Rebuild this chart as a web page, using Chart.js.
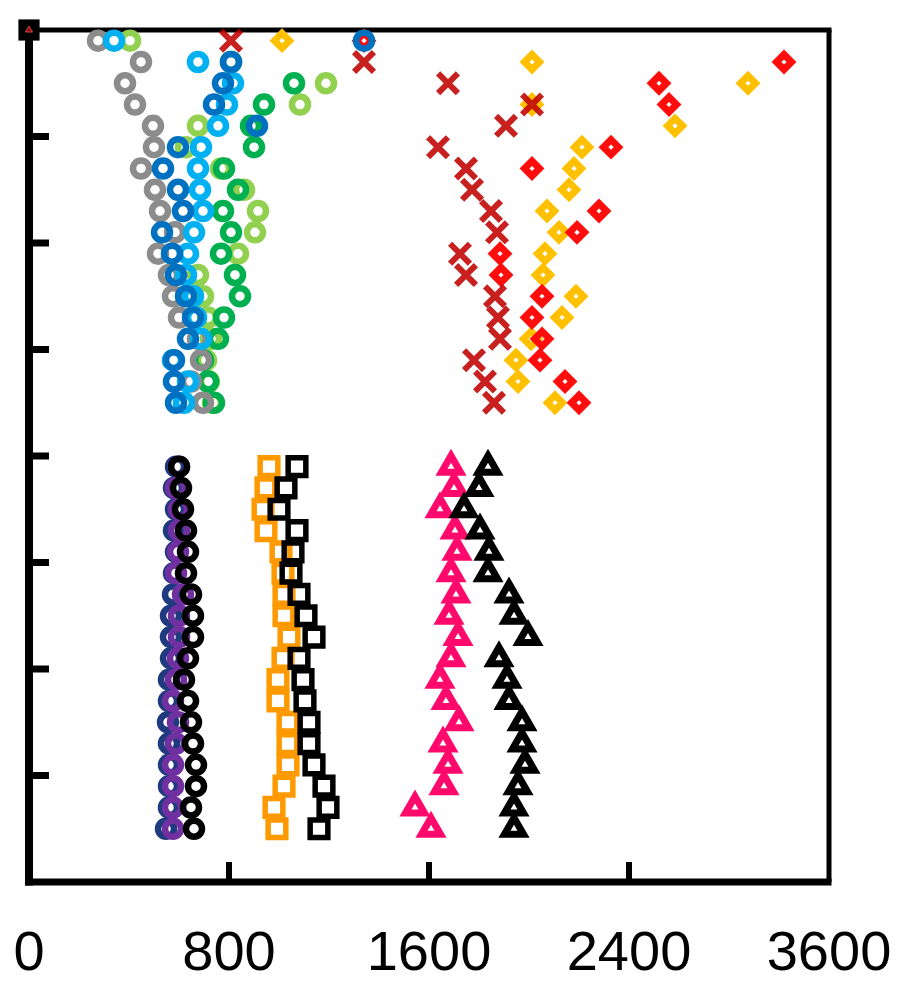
<!DOCTYPE html>
<html>
<head>
<meta charset="utf-8">
<script src="https://cdn.jsdelivr.net/npm/chart.js@4.4.1/dist/chart.umd.min.js"></script>
<style>
  html, body { margin: 0; padding: 0; background: #fff; }
  #wrap { width: 904px; height: 981px; }
</style>
</head>
<body>
<div id="wrap"><canvas id="chart" width="904" height="981"></canvas></div>
<script>
// ---- depth rows (y) ----
const rowsUpper = [0.1, 0.3, 0.5, 0.7, 0.9, 1.1, 1.3, 1.5, 1.7, 1.9, 2.1, 2.3, 2.5, 2.7, 2.9, 3.1, 3.3, 3.5];
const rowsLower = [4.1, 4.3, 4.5, 4.7, 4.9, 5.1, 5.3, 5.5, 5.7, 5.9, 6.1, 6.3, 6.5, 6.7, 6.9, 7.1, 7.3, 7.5];

// ---- x ticks ----
const xTickValues = [0, 800, 1600, 2400, 3200];
const xTickLabels = ['0', '800', '1600', '2400', '3600'];

// ---- upper block ----
const grayCircles      = [276, 448, 384, 424, 496, 500, 448, 504, 524, 584, 516, 560, 576, 600, 676, 688, 648, 696];
const lightBlueCircles = [340, 676, 816, 792, 756, 688, 676, 684, 696, 660, 636, 628, 656, 668, 688, 576, 636, 620];
const darkBlueCircles  = [1340, 808, 776, 740, 912, 596, 536, 596, 616, 532, 572, 588, 628, 656, 636, 580, 580, 588];
const lightGreenCircles = [404, null, 1188, 1084, 676, 628, 768, 860, 916, 904, 836, 676, 696, 716, 728, 708, 720, 736];
const greenCircles     = [null, 808, 1060, 940, 888, 900, 780, 836, 776, 808, 768, 824, 844, 780, 756, 696, 716, 740];
const redCrosses       = [808, 1340, 1676, 2012, 1908, 1636, 1748, 1772, 1848, 1872, 1724, 1748, 1864, 1876, 1884, 1780, 1824, 1860];
const yellowDiamonds   = [1012, 2012, 2876, 2012, 2584, 2212, 2180, 2160, 2072, 2120, 2064, 2056, 2188, 2132, 2008, 1948, 1956, 2104];
const redDiamonds      = [1340, 3020, 2520, 2560, null, 2328, 2012, null, 2280, 2192, 1884, 1888, 2052, 2012, 2052, 2044, 2144, 2200];

// ---- lower block ----
const navyCircles      = [588, 580, 588, 580, 588, 580, 576, 568, 568, 568, 560, 560, 556, 560, 560, 560, 560, 548];
const purpleCircles    = [600, 588, 600, 600, 596, 588, 616, 600, 600, 596, 588, 576, 596, 588, 576, 576, 576, 576];
const blackCircles     = [600, 608, 616, 628, 636, 628, 648, 656, 656, 636, 620, 636, 648, 656, 668, 668, 648, 660];
const orangeSquares    = [960, 948, 936, 948, 1008, 1016, 1020, 1020, 1040, 1016, 996, 996, 1036, 1036, 1036, 1020, 980, 992];
const blackSquares     = [1072, 1028, 1000, 1072, 1056, 1048, 1080, 1108, 1140, 1080, 1096, 1104, 1120, 1120, 1140, 1180, 1196, 1160];
const pinkTriangles    = [1688, 1700, 1644, 1704, 1712, 1688, 1708, 1680, 1716, 1688, 1644, 1668, 1720, 1656, 1676, 1660, 1544, 1608];
const blackTriangles   = [1836, 1800, 1740, 1804, 1840, 1836, 1920, 1940, 1996, 1880, 1912, 1920, 1972, 1972, 1984, 1956, 1940, 1940];

// origin marker
const originX = [0];
const originY = [0];

function pts(xs, ys) {
    return xs.map((v, i) => ({ x: v, y: ys[i] })).filter(p => p.x !== null);
}

const styles = {
    ring:     { pointStyle: 'circle',   pointRadius: 8,   borderWidth: 6.5 },
    square:   { pointStyle: 'rect',     pointRadius: 12.5, borderWidth: 5.5 },
    diamond:  { pointStyle: 'rectRot',  pointRadius: 7.5, borderWidth: 7 },
    cross:    { pointStyle: 'crossRot', pointRadius: 14,  borderWidth: 6 },
    triangle: { pointStyle: 'triangle', pointRadius: 11,  borderWidth: 7 }
};

function series(label, xs, ys, style, color) {
    const s = styles[style];
    return {
        label,
        data: pts(xs, ys),
        pointStyle: s.pointStyle,
        pointRadius: s.pointRadius,
        pointHoverRadius: s.pointRadius,
        pointBorderWidth: s.borderWidth,
        pointBorderColor: color,
        pointBackgroundColor: 'rgba(0,0,0,0)',
        showLine: false,
        clip: false
    };
}

// first in list is drawn on top
const datasets = [
    { label: 'origin', data: pts(originX, originY), pointStyle: 'triangle', pointRadius: 4,
      pointBorderWidth: 1, pointBorderColor: '#e8402a', pointBackgroundColor: '#7a1020', clip: false },
    { label: 'origin box', data: pts(originX, originY), pointStyle: 'rect', pointRadius: 15,
      pointBorderWidth: 0, pointBackgroundColor: '#000', pointBorderColor: '#000', clip: false },
    series('black squares', blackSquares, rowsLower, 'square', '#000000'),
    series('orange squares', orangeSquares, rowsLower, 'square', '#ff9900'),
    series('black circles', blackCircles, rowsLower, 'ring', '#000000'),
    series('purple circles', purpleCircles, rowsLower, 'ring', '#7030a0'),
    series('navy circles', navyCircles, rowsLower, 'ring', '#203a80'),
    series('black triangles', blackTriangles, rowsLower, 'triangle', '#000000'),
    series('pink triangles', pinkTriangles, rowsLower, 'triangle', '#ff0a6c'),
    series('red crosses', redCrosses, rowsUpper, 'cross', 'rgba(192,0,0,0.88)'),
    series('dark blue circles', darkBlueCircles, rowsUpper, 'ring', '#0070c0'),
    series('light blue circles', lightBlueCircles, rowsUpper, 'ring', '#00b0f0'),
    series('gray circles', grayCircles, rowsUpper, 'ring', '#8c8c8c'),
    series('green circles', greenCircles, rowsUpper, 'ring', '#00b050'),
    series('light green circles', lightGreenCircles, rowsUpper, 'ring', '#92d050'),
    series('red diamonds', redDiamonds, rowsUpper, 'diamond', '#ff0d0d'),
    series('yellow diamonds', yellowDiamonds, rowsUpper, 'diamond', '#ffc000')
];

function strokeLine(ctx, x1, y1, x2, y2, w) {
    ctx.lineWidth = w;
    ctx.beginPath();
    ctx.moveTo(x1, y1);
    ctx.lineTo(x2, y2);
    ctx.stroke();
}

// box frame with inward tick marks, drawn under the markers
const framePlugin = {
    id: 'frame',
    beforeDatasetsDraw(chart) {
        const { ctx, chartArea: a, scales: { x, y } } = chart;
        ctx.save();
        ctx.strokeStyle = '#000';
        ctx.lineCap = 'butt';
        strokeLine(ctx, a.left, a.top, a.right + 2.5, a.top, 5);
        strokeLine(ctx, a.right, a.top, a.right, a.bottom, 5);
        strokeLine(ctx, a.left, a.top - 2.5, a.left, a.bottom + 3.5, 8);
        strokeLine(ctx, a.left - 4, a.bottom, a.right + 2.5, a.bottom, 7);
        y.ticks.forEach(t => {
            if (t.value <= y.min || t.value >= y.max) return;
            const py = y.getPixelForValue(t.value);
            strokeLine(ctx, a.left, py, a.left + 20, py, 7);
        });
        x.ticks.forEach(t => {
            if (t.value <= x.min || t.value >= x.max) return;
            const px = x.getPixelForValue(t.value);
            strokeLine(ctx, px, a.bottom, px, a.bottom - 20, 6);
        });
        ctx.restore();
    }
};

new Chart(document.getElementById('chart'), {
    type: 'scatter',
    data: { datasets },
    options: {
        responsive: false,
        animation: false,
        events: [],
        layout: { padding: { left: 29, right: 75, top: 30, bottom: 0 } },
        plugins: { legend: { display: false }, tooltip: { enabled: false } },
        scales: {
            x: {
                type: 'linear',
                min: 0,
                max: 3200,
                afterBuildTicks: scale => { scale.ticks = xTickValues.map(v => ({ value: v })); },
                afterFit: scale => {
                    scale.height = 99;
                    scale.paddingLeft = 0;
                    scale.paddingRight = 0;
                },
                grid: { display: false, drawTicks: false },
                border: { display: false },
                ticks: {
                    color: '#000',
                    padding: 45,
                    maxRotation: 0,
                    autoSkip: false,
                    font: { family: "'Liberation Sans', Arial, sans-serif", size: 56, lineHeight: 1 },
                    callback: (v) => xTickLabels[xTickValues.indexOf(v)]
                }
            },
            y: {
                type: 'linear',
                reverse: true,
                min: 0,
                max: 8,
                afterFit: scale => { scale.width = 0; },
                grid: { display: false, drawTicks: false },
                border: { display: false },
                ticks: { display: false, stepSize: 1 }
            }
        }
    },
    plugins: [framePlugin]
});
</script>
</body>
</html>
